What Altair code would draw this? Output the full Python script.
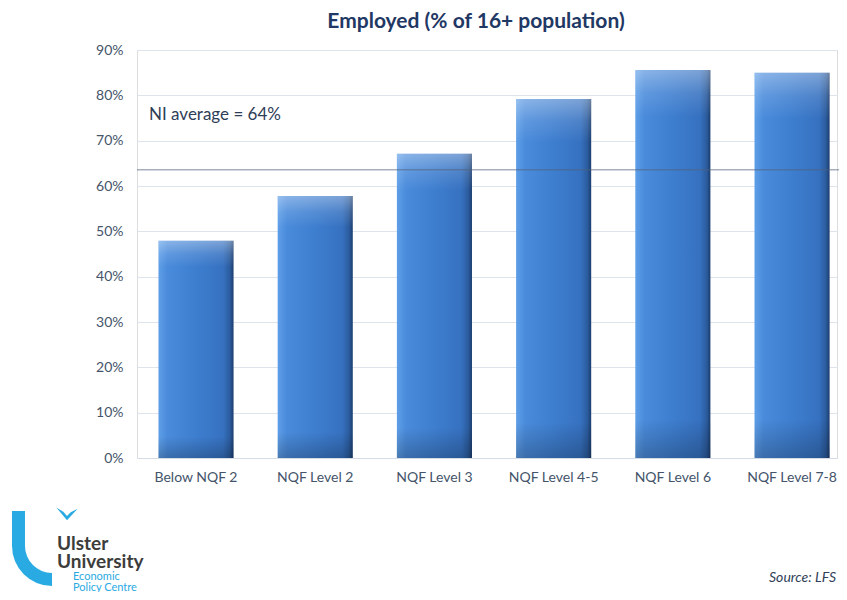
import altair as alt
import pandas as pd

categories = ["Below NQF 2", "NQF Level 2", "NQF Level 3", "NQF Level 4-5", "NQF Level 6", "NQF Level 7-8"]
employed = [0.479, 0.578, 0.671, 0.792, 0.856, 0.850]
ni_average = 0.636
ni_label = "NI average = 64%"
title_text = "Employed (% of 16+ population)"
source_text = "Source: LFS"
y_ticks = [0, 0.1, 0.2, 0.3, 0.4, 0.5, 0.6, 0.7, 0.8, 0.9]

FONT = "Lato"
W, H = 700, 408

df = pd.DataFrame({"cat": categories, "val": employed})

xscale = alt.Scale(domain=categories, paddingInner=0.37, paddingOuter=0.121, align=0.744)
yscale = alt.Scale(domain=[0, 0.9], nice=False)

base = alt.Chart(df)

bars = base.mark_bar(
    color=alt.Gradient(
        gradient="linear", x1=0, x2=1, y1=0, y2=0,
        stops=[
            alt.GradientStop(offset=0, color="#5F9FE8"),
            alt.GradientStop(offset=0.12, color="#4A8BDB"),
            alt.GradientStop(offset=0.5, color="#3E7ECF"),
            alt.GradientStop(offset=0.86, color="#3671C0"),
            alt.GradientStop(offset=0.95, color="#2B5C9E"),
            alt.GradientStop(offset=1, color="#1C3D6E"),
        ],
    )
).encode(
    x=alt.X("cat:N", scale=xscale, sort=categories,
            axis=alt.Axis(title=None, labelAngle=0, labelFont=FONT, labelFontSize=14,
                          labelColor="#44546A", labelPadding=12, ticks=False, tickSize=0,
                          domain=True, domainColor="#D5DCE6", grid=False)),
    y=alt.Y("val:Q", scale=yscale,
            axis=alt.Axis(title=None, format=".0%", values=y_ticks, labelFont=FONT,
                          labelFontSize=14, labelColor="#44546A", labelPadding=14,
                          ticks=False, tickSize=0, domain=False, gridColor="#DDE4EC")),
)

overlay = base.mark_bar(
    color=alt.Gradient(
        gradient="linear", x1=0, x2=0, y1=0, y2=1,
        stops=[
            alt.GradientStop(offset=0, color="rgba(255,255,255,0.35)"),
            alt.GradientStop(offset=0.06, color="rgba(255,255,255,0.12)"),
            alt.GradientStop(offset=0.12, color="rgba(255,255,255,0)"),
            alt.GradientStop(offset=0.9, color="rgba(0,0,0,0)"),
            alt.GradientStop(offset=1, color="rgba(0,0,0,0.22)"),
        ],
    )
).encode(x=alt.X("cat:N", scale=xscale, sort=categories), y=alt.Y("val:Q", scale=yscale))

avg_df = pd.DataFrame({"avg": [ni_average]})
avg_line = alt.Chart(avg_df).mark_rule(color="#4F5F7A", opacity=0.5, strokeWidth=1.5).encode(
    y=alt.Y("avg:Q", scale=yscale), x=alt.value(0), x2=alt.value(W + 10)
)

label = alt.Chart(pd.DataFrame({"t": [ni_label]})).mark_text(
    font=FONT, fontSize=17, color="#2F3E57", align="left", baseline="alphabetic"
).encode(text="t:N", x=alt.value(12), y=alt.value(70))

title = alt.Chart(pd.DataFrame({"t": [title_text]})).mark_text(
    font=FONT, fontSize=21, fontWeight="bold", color="#1F3864", align="center", baseline="alphabetic"
).encode(text="t:N", x=alt.value(339), y=alt.value(-22))

source = alt.Chart(pd.DataFrame({"t": [source_text]})).mark_text(
    font=FONT, fontSize=14, fontStyle="italic", color="#2F3E57", align="right", baseline="alphabetic"
).encode(text="t:N", x=alt.value(699), y=alt.value(532))

# Logo (decorative)
LB = "#2AAAE2"
logo_rect = alt.Chart(pd.DataFrame({"a": [1]})).mark_rect(color=LB).encode(
    x=alt.value(-125), x2=alt.value(-112), y=alt.value(461), y2=alt.value(497)
)
logo_arc = alt.Chart(pd.DataFrame({"a": [1]})).mark_arc(
    color=LB, radius=40, radius2=27, theta=3.1416, theta2=4.7124
).encode(x=alt.value(-85), y=alt.value(496))
logo_bird = alt.Chart(pd.DataFrame({"a": [1]})).mark_point(
    shape="M-1,-0.7L0,0.5L1,-0.6L0.35,-0.25L0,0.1L-0.35,-0.3Z", filled=True, color=LB, size=450, opacity=1
).encode(x=alt.value(-70), y=alt.value(465))
logo_u1 = alt.Chart(pd.DataFrame({"t": ["Ulster"]})).mark_text(
    font=FONT, fontSize=19, fontWeight="bold", color="#3C3C3B", align="left", baseline="alphabetic"
).encode(text="t:N", x=alt.value(-80), y=alt.value(500))
logo_u2 = alt.Chart(pd.DataFrame({"t": ["University"]})).mark_text(
    font=FONT, fontSize=19, fontWeight="bold", color="#3C3C3B", align="left", baseline="alphabetic"
).encode(text="t:N", x=alt.value(-80), y=alt.value(518))
logo_e1 = alt.Chart(pd.DataFrame({"t": ["Economic"]})).mark_text(
    font=FONT, fontSize=11, color=LB, align="left", baseline="alphabetic"
).encode(text="t:N", x=alt.value(-64), y=alt.value(530))
logo_e2 = alt.Chart(pd.DataFrame({"t": ["Policy Centre"]})).mark_text(
    font=FONT, fontSize=11, color=LB, align="left", baseline="alphabetic"
).encode(text="t:N", x=alt.value(-64), y=alt.value(541))

chart = alt.layer(
    bars, overlay, avg_line, label, title, source,
    logo_rect, logo_arc, logo_bird, logo_u1, logo_u2, logo_e1, logo_e2
).properties(
    width=W, height=H,
    autosize=alt.AutoSizeParams(type="none"),
    padding={"left": 129, "top": 42, "right": 2, "bottom": 134},
).configure_view(stroke=None, clip=False).configure(background="white")

chart.save("out.html", embed_options={"renderer": "svg", "actions": False})
